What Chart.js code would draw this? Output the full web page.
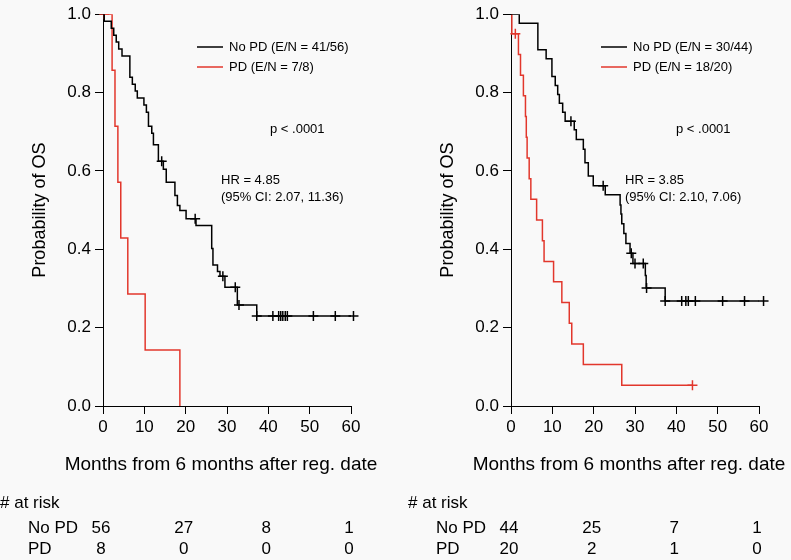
<!DOCTYPE html>
<html>
<head>
<meta charset="utf-8">
<script src="https://cdn.jsdelivr.net/npm/chart.js@4/dist/chart.umd.min.js"></script>
<style>
  body { margin: 0; background: #f9f9f9; }
  #wrap { position: relative; width: 791px; height: 560px; }
  canvas { position: absolute; top: 0; }
</style>
</head>
<body>
<div id="wrap">
  <canvas id="left" width="383" height="560" style="left:0"></canvas>
  <canvas id="right" width="383" height="560" style="left:408px"></canvas>
</div>
<script>
// step times (months) and survival after each step
var leftNoPdTime = [0, 0.3, 2.0, 2.6, 3.2, 3.8, 4.6, 6.5, 7.1, 7.8, 8.3, 9.9, 10.5, 11.0, 11.8, 12.2, 13.4, 14.6, 15.3, 17.4, 18.0, 18.6, 20.1, 22.5, 26.3, 26.6, 27.7, 28.3, 29.5, 32.5, 37.2];
var leftNoPdSurv = [1, 0.982, 0.964, 0.946, 0.929, 0.911, 0.893, 0.839, 0.821, 0.804, 0.786, 0.768, 0.75, 0.714, 0.696, 0.667, 0.625, 0.604, 0.571, 0.537, 0.512, 0.499, 0.478, 0.461, 0.402, 0.36, 0.343, 0.331, 0.303, 0.258, 0.23];
var leftNoPdCensor = [14.2, 22.3, 29.0, 32.0, 32.9, 37.2, 41.1, 42.5, 43.0, 43.5, 44.1, 44.6, 50.9, 56.2, 60.6];

var leftPdTime = [0, 2.2, 2.9, 3.6, 4.3, 6.0, 10.2, 18.6];
var leftPdSurv = [1, 0.857, 0.714, 0.571, 0.429, 0.286, 0.143, 0];
var leftPdCensor = [0.3];

var rightNoPdTime = [0, 2.0, 6.5, 8.5, 9.9, 10.7, 11.3, 11.7, 12.5, 13.1, 15.3, 15.8, 17.5, 17.9, 18.7, 19.9, 22.8, 26.4, 26.6, 26.8, 27.3, 27.8, 28.8, 29.5, 32.5, 32.7, 37.3];
var rightNoPdSurv = [1, 0.977, 0.909, 0.886, 0.841, 0.818, 0.795, 0.773, 0.75, 0.727, 0.705, 0.68, 0.655, 0.621, 0.587, 0.562, 0.539, 0.513, 0.49, 0.465, 0.44, 0.415, 0.39, 0.364, 0.333, 0.301, 0.268];
var rightNoPdCensor = [14.5, 22.3, 29.1, 30.0, 32.0, 32.8, 37.3, 41.3, 42.3, 42.9, 44.6, 51.2, 56.5, 61.1];

var rightPdTime = [0, 0.2, 1.8, 2.3, 3.0, 3.5, 3.7, 3.9, 4.4, 4.8, 6.2, 7.6, 8.0, 10.3, 12.3, 14.1, 14.7, 17.5, 26.8];
var rightPdSurv = [1, 0.95, 0.897, 0.844, 0.792, 0.739, 0.686, 0.633, 0.58, 0.528, 0.475, 0.422, 0.369, 0.317, 0.264, 0.211, 0.158, 0.106, 0.053];
var rightPdCensor = [1.05, 43.9];

var xTicks = [0, 10, 20, 30, 40, 50, 60];
var yTicks = [0, 0.2, 0.4, 0.6, 0.8, 1.0];

var riskTimes = [0, 20, 40, 60];
var leftRiskNoPd = [56, 27, 8, 1];
var leftRiskPd = [8, 0, 0, 0];
var rightRiskNoPd = [44, 25, 7, 1];
var rightRiskPd = [20, 2, 1, 0];

var BLACK = '#000000';
var RED = '#e2372c';
var FONT = '"Liberation Sans", Arial, Helvetica, sans-serif';

// survival at time t (step function)
function survAt(times, surv, t) {
  var s = surv[0];
  for (var i = 0; i < times.length; i++) {
    if (times[i] <= t) s = surv[i];
  }
  return s;
}

function curvePoints(times, surv, censor) {
  var pts = times.map(function (t, i) { return { x: t, y: surv[i] }; });
  var lastC = Math.max.apply(null, censor);
  if (lastC > times[times.length - 1]) pts.push({ x: lastC, y: surv[surv.length - 1] });
  return pts;
}

function censorPoints(times, surv, censor) {
  return censor.map(function (t) { return { x: t, y: survAt(times, surv, t) }; });
}

function notesPlugin(cfg) {
  return {
    id: 'kmNotes',
    afterDraw: function (chart) {
      var ctx = chart.ctx, a = chart.chartArea, xs = chart.scales.x;
      ctx.save();
      ctx.font = '13px ' + FONT;
      ctx.fillStyle = '#000';
      ctx.textBaseline = 'middle';
      ctx.textAlign = 'left';
      cfg.legend.forEach(function (item, i) {
        var y = cfg.legendY[i];
        ctx.strokeStyle = item.color;
        ctx.lineWidth = 1.5;
        ctx.beginPath();
        ctx.moveTo(a.left + cfg.legendX, y);
        ctx.lineTo(a.left + cfg.legendX + 26, y);
        ctx.stroke();
        ctx.fillText(item.text, a.left + cfg.legendX + 32, y);
      });
      ctx.fillText('p < .0001', a.left + cfg.pX, 129);
      ctx.fillText(cfg.hr[0], a.left + cfg.hrX, 180);
      ctx.fillText(cfg.hr[1], a.left + cfg.hrX, 197);

      // x axis title, drawn at its natural width
      ctx.textAlign = 'center';
      ctx.font = '19px ' + FONT;
      ctx.fillText('Months from 6 months after reg. date', (a.left + a.right) / 2 - 6, 465);

      // numbers at risk
      ctx.font = '17px ' + FONT;
      ctx.textAlign = 'left';
      ctx.fillText('# at risk', 0, 503);
      ctx.fillText('No PD', 28, 528);
      ctx.fillText('PD', 28, 549);
      ctx.textAlign = 'center';
      riskTimes.forEach(function (t, i) {
        var x = xs.getPixelForValue(t) - 2;
        ctx.fillText(String(cfg.riskNoPd[i]), x, 528);
        ctx.fillText(String(cfg.riskPd[i]), x, 549);
      });
      ctx.restore();
    }
  };
}

function makeChart(id, d, notes) {
  var axisTicks = { color: '#000', font: { family: FONT, size: 17 } };
  var grid = { drawOnChartArea: false, drawTicks: true, tickLength: 8, color: '#000', lineWidth: 1 };
  return new Chart(document.getElementById(id), {
    type: 'line',
    data: {
      datasets: [
        { data: curvePoints(d.noPdTime, d.noPdSurv, d.noPdCensor), borderColor: BLACK, borderWidth: 1.5, stepped: 'before', pointRadius: 0, fill: false },
        { data: curvePoints(d.pdTime, d.pdSurv, d.pdCensor), borderColor: RED, borderWidth: 1.5, stepped: 'before', pointRadius: 0, fill: false },
        { type: 'scatter', data: censorPoints(d.noPdTime, d.noPdSurv, d.noPdCensor), pointStyle: 'cross', pointRadius: 5, borderColor: BLACK, pointBorderWidth: 1.5, clip: { left: 6, top: 0, right: 12, bottom: 6 } },
        { type: 'scatter', data: censorPoints(d.pdTime, d.pdSurv, d.pdCensor), pointStyle: 'cross', pointRadius: 5, borderColor: RED, pointBorderWidth: 1.5, clip: { left: 6, top: 0, right: 12, bottom: 6 } }
      ]
    },
    options: {
      responsive: false,
      animation: false,
      devicePixelRatio: 1,
      layout: { padding: { left: 0, top: 10, right: 32, bottom: 84 } },
      plugins: { legend: { display: false }, tooltip: { enabled: false } },
      scales: {
        x: {
          type: 'linear', min: 0, max: 60,
          afterBuildTicks: function (s) { s.ticks = xTicks.map(function (v) { return { value: v }; }); },
          afterFit: function (s) { s.height = 70; },
          ticks: Object.assign({ padding: 3 }, axisTicks),
          grid: grid,
          border: { color: '#000', width: 1 },
          title: { display: false }
        },
        y: {
          type: 'linear', min: 0, max: 1,
          afterBuildTicks: function (s) { s.ticks = yTicks.map(function (v) { return { value: v }; }); },
          afterFit: function (s) { s.width = 103; },
          ticks: Object.assign({ padding: 4, callback: function (v) { return Number(v).toFixed(1); } }, axisTicks),
          grid: grid,
          border: { color: '#000', width: 1 },
          title: { display: true, text: 'Probability of OS', color: '#000', font: { family: FONT, size: 18 }, padding: { top: 29, bottom: 0 } }
        }
      }
    },
    plugins: [notesPlugin(notes)]
  });
}

makeChart('left',
  { noPdTime: leftNoPdTime, noPdSurv: leftNoPdSurv, noPdCensor: leftNoPdCensor,
    pdTime: leftPdTime, pdSurv: leftPdSurv, pdCensor: leftPdCensor },
  { legendX: 94, legendY: [47, 67], pX: 167, hrX: 118,
    legend: [{ color: BLACK, text: 'No PD (E/N = 41/56)' }, { color: RED, text: 'PD (E/N = 7/8)' }],
    hr: ['HR = 4.85', '(95% CI: 2.07, 11.36)'],
    riskNoPd: leftRiskNoPd, riskPd: leftRiskPd });

makeChart('right',
  { noPdTime: rightNoPdTime, noPdSurv: rightNoPdSurv, noPdCensor: rightNoPdCensor,
    pdTime: rightPdTime, pdSurv: rightPdSurv, pdCensor: rightPdCensor },
  { legendX: 90, legendY: [47, 67], pX: 165, hrX: 114,
    legend: [{ color: BLACK, text: 'No PD (E/N = 30/44)' }, { color: RED, text: 'PD (E/N = 18/20)' }],
    hr: ['HR = 3.85', '(95% CI: 2.10, 7.06)'],
    riskNoPd: rightRiskNoPd, riskPd: rightRiskPd });
</script>
</body>
</html>
